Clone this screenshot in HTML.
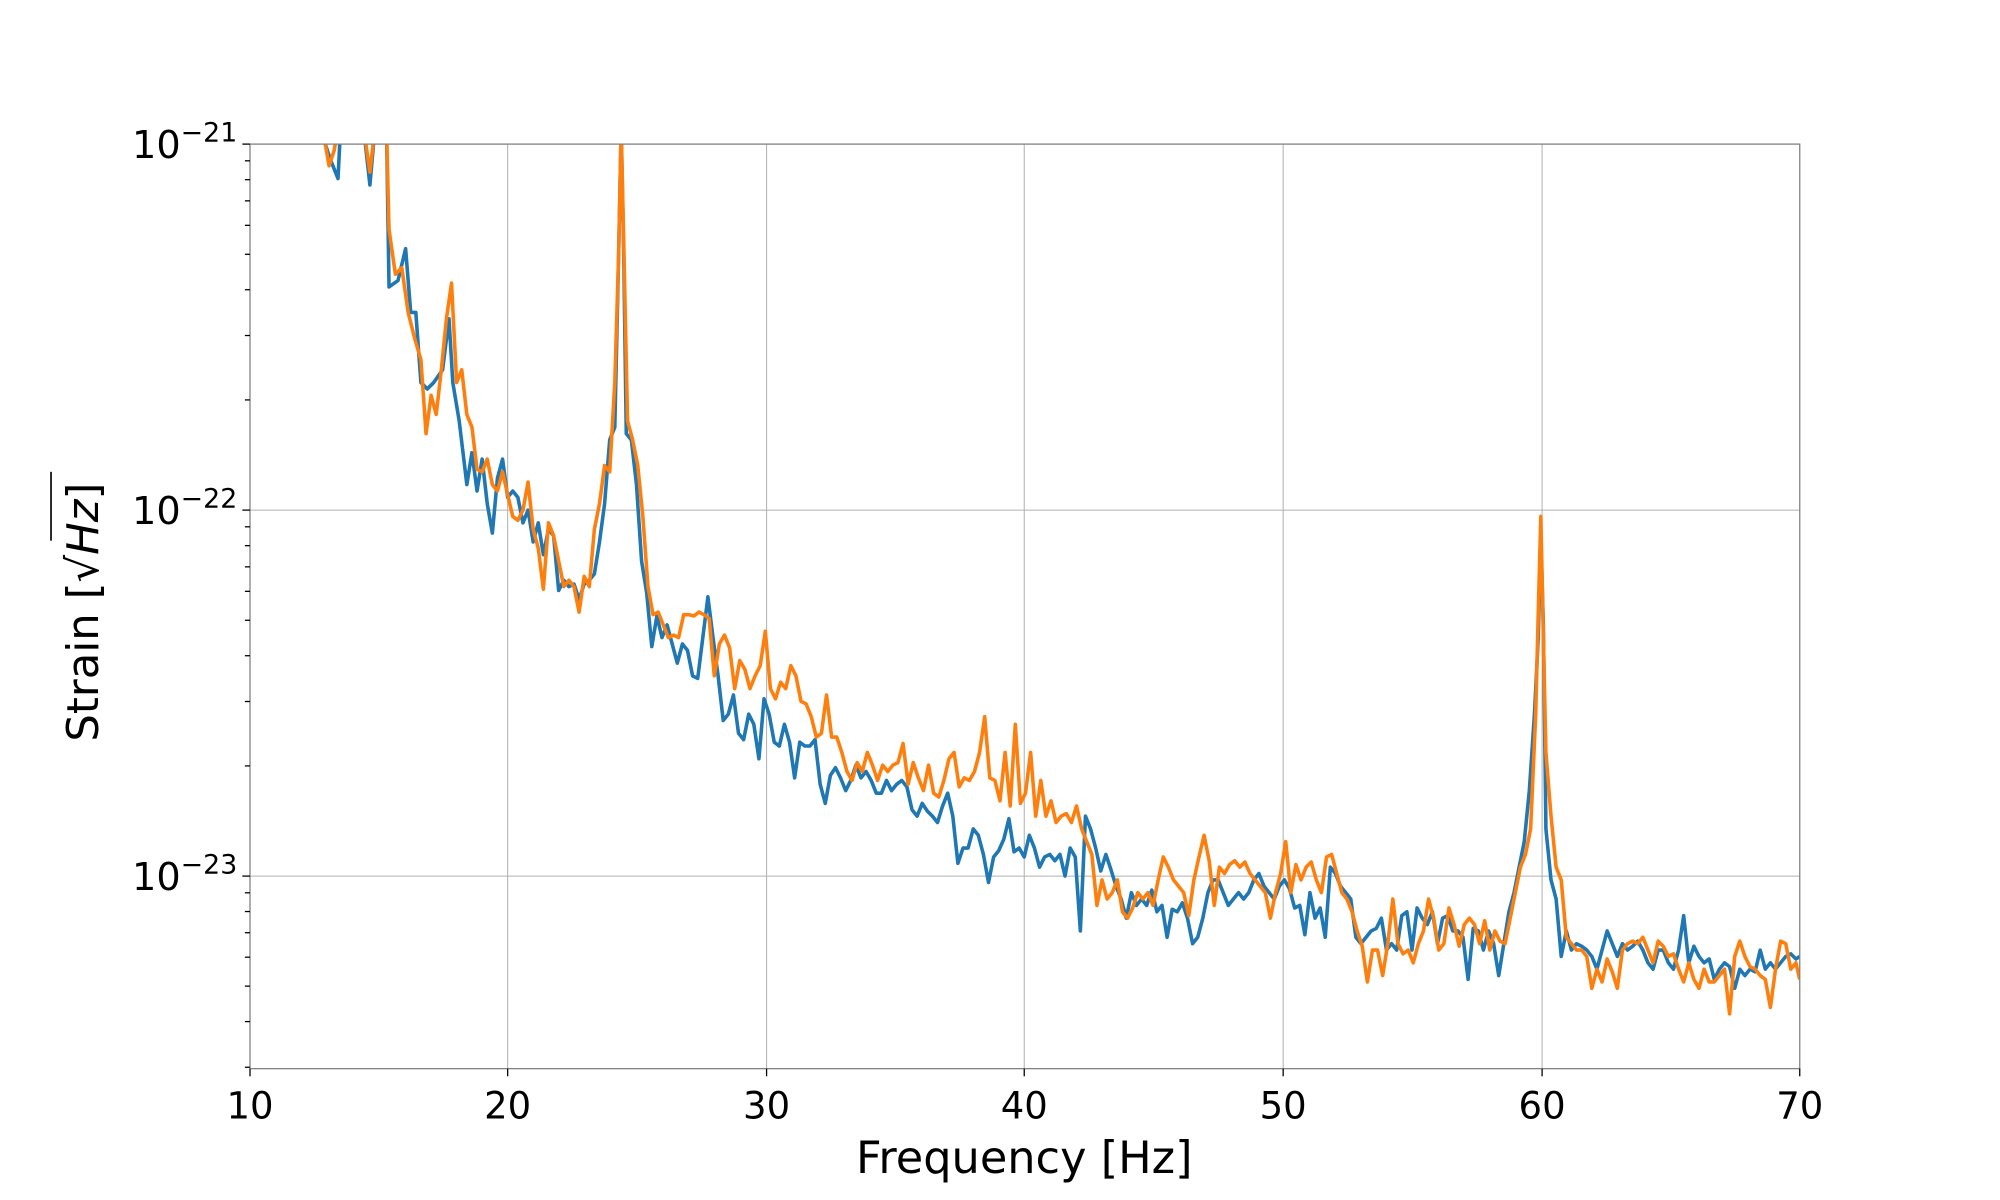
<!DOCTYPE html>
<html><head><meta charset="utf-8"><style>html,body{margin:0;padding:0;background:#fff}svg{display:block}</style></head>
<body>
<svg width="2000" height="1200" viewBox="0 0 1568 941" preserveAspectRatio="none" xmlns="http://www.w3.org/2000/svg" font-family="'DejaVu Sans','Liberation Sans',sans-serif">
<defs><clipPath id="c"><rect x="196" y="113" width="1215" height="725"/></clipPath></defs>
<rect width="1568" height="941" fill="#fff"/>
<g stroke="#b0b0b0" stroke-width="0.8">
<line x1="398" y1="113" x2="398" y2="838"/><line x1="601" y1="113" x2="601" y2="838"/><line x1="803" y1="113" x2="803" y2="838"/><line x1="1006" y1="113" x2="1006" y2="838"/><line x1="1209" y1="113" x2="1209" y2="838"/>
<line x1="196" y1="400" x2="1411" y2="400"/><line x1="196" y1="687" x2="1411" y2="687"/>
</g>
<g clip-path="url(#c)" fill="none" stroke-width="2.8" stroke-linejoin="round">
<polyline stroke="#1f77b4" points="250,100 255,113 259,125 265,140 267,100 285,100 290,145 294,100 303,100 305,225 312,220 318,195 322,245 326,245 330,300 335,305 340,300 347,290 352,250 355,300 360,330 366,380 370,355 374,385 378,360 382,395 386,418 390,375 394,360 398,390 402,385 406,390 410,410 414,400 418,425 422,410 426,435 430,415 434,420 438,463 442,455 446,460 450,458 454,470 458,458 462,455 466,450 470,425 474,395 478,345 482,335 485,200 487,100 489,200 491,340 495,345 499,380 503,440 507,465 511,507 515,483 519,500 523,490 527,505 531,520 535,505 539,510 543,530 547,532 551,500 555,468 559,500 563,530 567,565 571,560 575,545 579,575 583,580 587,560 591,568 595,595 599,548 603,560 607,582 611,585 615,568 619,582 623,610 627,582 631,585 635,585 639,580 643,615 647,630 651,608 655,602 659,610 663,620 667,612 671,600 675,610 679,605 683,612 687,622 691,622 695,612 699,620 703,615 707,612 711,617 715,635 719,640 723,630 727,636 731,640 735,645 739,632 743,622 747,640 751,677 755,665 759,665 763,650 767,655 771,670 775,692 779,672 783,667 787,658 791,642 795,668 799,665 803,672 807,655 811,665 815,680 819,672 823,670 827,675 831,670 835,687 839,665 843,672 847,730 851,640 855,650 859,665 863,683 867,670 871,682 875,695 879,705 883,720 887,700 891,710 895,705 899,710 903,698 907,715 911,710 915,735 919,713 923,715 927,708 931,720 935,740 939,735 943,720 947,700 951,690 955,690 959,700 963,710 967,705 971,700 975,705 979,700 983,690 987,685 991,695 995,700 999,705 1003,695 1007,690 1011,697 1015,712 1019,710 1023,733 1027,700 1031,720 1035,712 1039,735 1043,680 1047,685 1051,695 1055,700 1059,705 1063,735 1067,740 1071,735 1075,730 1079,728 1083,720 1087,745 1091,740 1095,745 1099,718 1103,715 1107,745 1111,712 1115,720 1119,725 1123,715 1127,740 1131,720 1135,718 1139,730 1143,730 1147,735 1151,768 1155,728 1159,730 1163,745 1167,730 1171,740 1175,765 1179,740 1183,715 1187,700 1191,680 1195,660 1199,620 1203,560 1206,500 1208,420 1210,490 1212,650 1216,690 1220,705 1224,750 1228,730 1232,745 1236,740 1240,742 1244,745 1248,750 1252,760 1256,745 1260,730 1264,740 1268,750 1272,740 1276,745 1280,742 1284,738 1288,745 1292,755 1296,760 1300,745 1304,745 1308,755 1312,760 1316,745 1320,718 1324,755 1328,742 1332,750 1336,755 1340,752 1344,768 1348,760 1352,755 1356,758 1360,775 1364,760 1368,765 1372,760 1376,762 1380,745 1384,760 1388,755 1392,760 1396,755 1400,750 1404,748 1408,752 1411,750"/>
<polyline stroke="#ff7f0e" points="250,100 255,113 258,130 262,118 265,100 285,100 290,135 294,100 303,100 305,180 310,215 315,210 320,245 325,265 330,282 334,340 338,310 342,325 346,290 350,250 354,222 358,300 362,290 366,325 370,335 374,368 378,370 382,360 386,380 390,385 394,370 398,388 402,405 406,408 410,400 414,378 418,415 422,430 426,462 430,410 434,420 438,440 442,460 446,455 450,460 454,480 458,452 462,460 466,415 470,395 474,365 478,370 482,300 485,200 487,100 489,190 492,330 496,345 500,365 504,405 508,460 512,482 516,480 520,490 524,500 528,498 532,500 536,482 540,482 544,483 548,480 552,482 556,485 560,530 564,505 568,498 572,508 576,540 580,518 584,525 588,540 592,530 596,522 600,495 604,540 608,548 612,535 616,540 620,522 624,530 628,550 632,552 636,562 640,578 644,575 648,545 652,578 656,578 660,590 664,605 668,612 672,598 676,605 680,590 684,600 688,612 692,600 696,605 700,600 704,598 708,583 712,615 716,598 720,610 724,620 728,600 732,622 736,625 740,612 744,595 748,590 752,617 756,610 760,612 764,605 768,590 772,562 776,610 780,612 784,628 788,590 792,632 796,568 800,630 804,622 808,590 812,640 816,612 820,640 824,628 828,645 832,640 836,638 840,645 844,632 848,650 852,660 856,670 860,710 864,690 868,705 872,700 876,690 880,715 884,720 888,712 892,700 896,705 900,700 904,710 908,690 912,672 916,680 920,690 924,695 928,700 932,718 936,690 940,672 944,655 948,675 952,710 956,680 960,685 964,678 968,675 972,680 976,676 980,685 984,690 988,695 992,700 996,720 1000,700 1004,685 1008,660 1012,700 1016,678 1020,690 1024,680 1028,676 1032,690 1036,700 1040,672 1044,670 1048,685 1052,700 1056,705 1060,715 1064,730 1068,742 1072,770 1076,745 1080,745 1084,765 1088,740 1092,705 1096,740 1100,748 1104,745 1108,755 1112,740 1116,730 1120,705 1124,720 1128,745 1132,740 1136,712 1140,725 1144,742 1148,725 1152,720 1156,725 1160,740 1164,722 1168,745 1172,730 1176,738 1180,740 1184,720 1188,700 1192,680 1196,670 1200,650 1204,560 1206,480 1208,405 1210,500 1212,590 1216,640 1220,680 1224,690 1228,735 1232,740 1236,745 1240,745 1244,750 1248,775 1252,760 1256,770 1260,752 1264,762 1268,775 1272,745 1276,740 1280,738 1284,740 1288,735 1292,745 1296,755 1300,738 1304,742 1308,750 1312,748 1316,760 1320,770 1324,755 1328,768 1332,775 1336,760 1340,770 1344,770 1348,765 1352,760 1356,795 1360,750 1364,738 1368,750 1372,758 1376,760 1380,765 1384,768 1388,790 1392,760 1396,738 1400,740 1404,760 1408,755 1411,768"/>
</g>
<rect x="196" y="113" width="1215" height="725" fill="none" stroke="#808080" stroke-width="1"/>
<g stroke="#000" stroke-width="1">
<line x1="190" y1="113" x2="196" y2="113"/><line x1="190" y1="400" x2="196" y2="400"/><line x1="190" y1="687" x2="196" y2="687"/>
<line x1="196" y1="838" x2="196" y2="844"/><line x1="398" y1="838" x2="398" y2="844"/><line x1="601" y1="838" x2="601" y2="844"/><line x1="803" y1="838" x2="803" y2="844"/><line x1="1006" y1="838" x2="1006" y2="844"/><line x1="1209" y1="838" x2="1209" y2="844"/><line x1="1411" y1="838" x2="1411" y2="844"/>
<line x1="192" y1="313.6" x2="196" y2="313.6"/><line x1="192" y1="263.1" x2="196" y2="263.1"/><line x1="192" y1="227.2" x2="196" y2="227.2"/><line x1="192" y1="199.4" x2="196" y2="199.4"/><line x1="192" y1="176.7" x2="196" y2="176.7"/><line x1="192" y1="157.5" x2="196" y2="157.5"/><line x1="192" y1="140.9" x2="196" y2="140.9"/><line x1="192" y1="126.1" x2="196" y2="126.1"/>
<line x1="192" y1="600.6" x2="196" y2="600.6"/><line x1="192" y1="550.1" x2="196" y2="550.1"/><line x1="192" y1="514.2" x2="196" y2="514.2"/><line x1="192" y1="486.4" x2="196" y2="486.4"/><line x1="192" y1="463.7" x2="196" y2="463.7"/><line x1="192" y1="444.5" x2="196" y2="444.5"/><line x1="192" y1="427.9" x2="196" y2="427.9"/><line x1="192" y1="413.1" x2="196" y2="413.1"/>
<line x1="192" y1="836.9" x2="196" y2="836.9"/><line x1="192" y1="801.1" x2="196" y2="801.1"/><line x1="192" y1="773.3" x2="196" y2="773.3"/><line x1="192" y1="750.6" x2="196" y2="750.6"/><line x1="192" y1="731.4" x2="196" y2="731.4"/><line x1="192" y1="714.8" x2="196" y2="714.8"/><line x1="192" y1="700.1" x2="196" y2="700.1"/>
</g>
<g font-size="29" fill="#000" text-anchor="middle">
<text x="196" y="877">10</text><text x="398" y="877">20</text><text x="601" y="877">30</text><text x="803" y="877">40</text><text x="1006" y="877">50</text><text x="1209" y="877">60</text><text x="1411" y="877">70</text>
</g>
<g font-size="30" fill="#000" text-anchor="end">
<text x="186" y="124">10<tspan font-size="21" dy="-13">−21</tspan></text>
<text x="186" y="411">10<tspan font-size="21" dy="-13">−22</tspan></text>
<text x="186" y="698">10<tspan font-size="21" dy="-13">−23</tspan></text>
</g>
<text x="803" y="920" font-size="35" text-anchor="middle">Frequency [Hz]</text>
<text transform="translate(77,480) rotate(-90)" font-size="34" text-anchor="middle">Strain [<tspan>√</tspan><tspan font-style="italic">Hz</tspan>]</text>
<line x1="40" y1="370" x2="40" y2="424" stroke="#000" stroke-width="1.3"/>
</svg>
</body></html>
